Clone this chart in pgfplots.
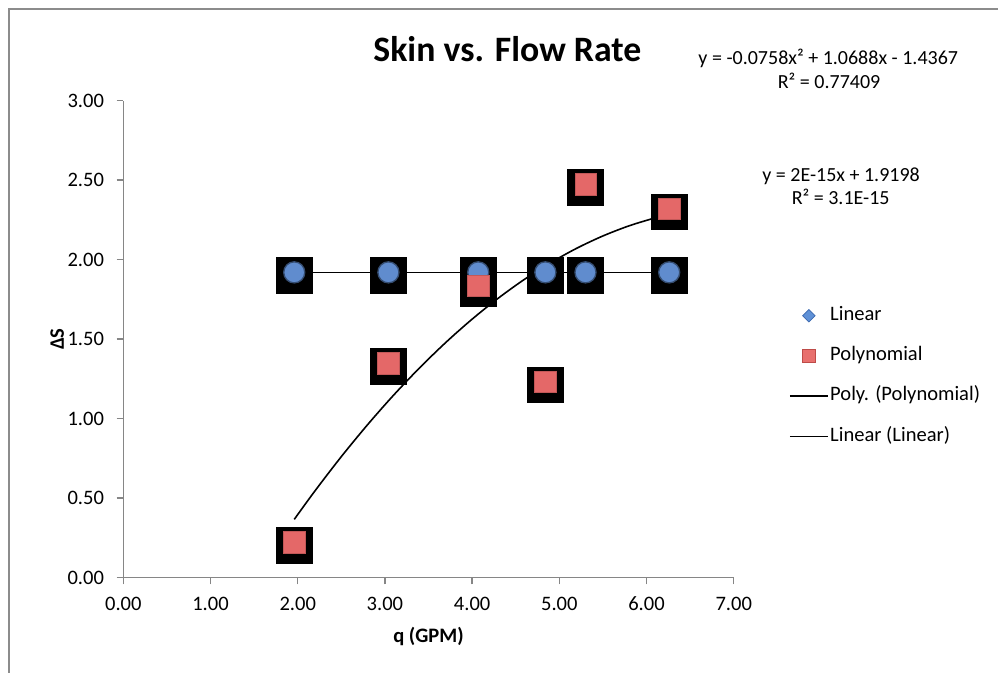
\documentclass[border=0pt]{standalone}
\usepackage{fontspec}
\setmainfont{Carlito}
\usepackage{pgfplots}
\pgfplotsset{compat=1.18}
\pgfplotsset{mylegimg/.style={legend image code/.code={\draw[mark repeat=2,mark phase=2,##1] plot coordinates {(0pt,0pt)(14.3pt,0pt)(28.7pt,0pt)};}}}
\definecolor{axgray}{RGB}{134,134,134}
\definecolor{framegray}{RGB}{140,140,140}
\definecolor{mblue}{RGB}{96,140,206}
\definecolor{mpink}{RGB}{228,104,104}
\definecolor{lblue}{RGB}{95,145,215}
\definecolor{lbluedk}{RGB}{60,105,175}
\definecolor{lpink}{RGB}{232,112,110}
\definecolor{lpinkdk}{RGB}{190,75,72}
\begin{document}
\begin{tikzpicture}
\useasboundingbox (0,0) rectangle (748.5pt,-504.75pt);
\draw[framegray, line width=1.3pt] (6.9pt,-520pt) -- (6.9pt,-6.9pt) -- (760pt,-6.9pt);
\node[font=\fontsize{26.8}{32}\selectfont\bfseries, anchor=base, inner sep=0pt] at (380.5pt,-46.3pt) {Skin vs. Flow Rate};
\node[font=\fontsize{15}{18}\selectfont, anchor=base, inner sep=0pt] at (621.2pt,-48.2pt) {y = -0.0758x² + 1.0688x - 1.4367};
\node[font=\fontsize{15}{18}\selectfont, anchor=base, inner sep=0pt] at (621.8pt,-66.2pt) {R² = 0.77409};
\node[font=\fontsize{15}{18}\selectfont, anchor=base, inner sep=0pt] at (630.8pt,-136.3pt) {y = 2E-15x + 1.9198};
\node[font=\fontsize{15}{18}\selectfont, anchor=base, inner sep=0pt] at (630.5pt,-153.75pt) {R² = 3.1E-15};
\begin{axis}[
  at={(92.5pt,-433.3pt)}, anchor=south west,
  scale only axis, width=457.8pt, height=357.9pt,
  xmin=0, xmax=7, ymin=0, ymax=3,
  axis lines*=left,
  axis line style={axgray, line width=1.1pt},
  tick style={axgray, line width=1.1pt},
  major tick length=5pt,
  tick align=outside,
  xtick={0,1,2,3,4,5,6,7},
  ytick={0,0.5,1,1.5,2,2.5,3},
  tick label style={font=\fontsize{15.4}{18}\selectfont, black},
  xticklabel style={yshift=-6pt, /pgf/number format/.cd, fixed, fixed zerofill, precision=2, assume math mode=true},
  yticklabel style={xshift=-6pt, /pgf/number format/.cd, fixed, fixed zerofill, precision=2, assume math mode=true},
  xlabel={q (GPM)}, ylabel={ΔS},
  label style={font=\fontsize{15.4}{18}\selectfont\bfseries},
  xlabel style={at={(axis description cs:0.5,-0.1229)}, anchor=center},
  ylabel style={at={(axis description cs:-0.1084,0.5)}, anchor=center, rotate=0},
  clip=false,
  mylegimg,
  legend style={at={(axis cs:7.631,1.72)}, anchor=north west, draw=none, fill=none,
    inner sep=0pt, row sep=13.2pt, column sep=0pt,
    font=\fontsize{15.4}{18}\selectfont,
    nodes={inner sep=1pt, text height=11pt, text depth=4pt}},
  legend cell align=left,
]
% shadows
\addplot[forget plot, only marks, mark=square*, mark size=13.3pt, black, mark options={yshift=-2.2pt}]
  coordinates {(1.96,1.9198)(3.04,1.9198)(4.07,1.9198)(4.84,1.9198)(5.30,1.9198)(6.26,1.9198)};
\addplot[forget plot, only marks, mark=square*, mark size=13.3pt, black, mark options={yshift=-2.2pt}]
  coordinates {(1.96,0.223)(3.04,1.349)(4.07,1.836)(4.84,1.233)(5.30,2.474)(6.26,2.319)};
% inner markers
\addplot[forget plot, only marks, mark=*, mark size=7.9pt, mark options={fill=mblue, draw=mblue!55!black, line width=1pt}]
  coordinates {(1.96,1.9198)(3.04,1.9198)(4.07,1.9198)(4.84,1.9198)(5.30,1.9198)(6.26,1.9198)};
\addplot[forget plot, only marks, mark=square*, mark size=8pt, mark options={fill=mpink, draw=mpink!85!black, line width=0.4pt}]
  coordinates {(1.96,0.223)(3.04,1.349)(4.07,1.836)(4.84,1.233)(5.30,2.474)(6.26,2.319)};
% trendlines
\addplot[forget plot, black, line width=1.2pt, smooth]
  coordinates {(1.96,0.3669)(2.2,0.5478)(2.5,0.7615)(2.8,0.9616)(3.1,1.1482)(3.4,1.3210)(3.7,1.4802)(4.0,1.6257)(4.3,1.7576)(4.6,1.8759)(4.9,1.9804)(5.2,2.0715)(5.5,2.1487)(5.8,2.2124)(6.1,2.2625)(6.26,2.2836)};
\addplot[forget plot, black, line width=1.2pt]
  coordinates {(1.96,1.9198)(6.26,1.9198)};
% legend
\addlegendimage{only marks, mark=square*, mark size=3.3pt, mark options={rotate=45, fill=lblue, draw=lbluedk, line width=0.5pt}, mylegimg}
\addlegendimage{only marks, mark=square*, mark size=4.8pt, mark options={fill=lpink, draw=lpinkdk, line width=0.5pt}, mylegimg}
\addlegendimage{no marks, black, line width=1.2pt, mylegimg}
\addlegendimage{no marks, black, line width=1.2pt, mylegimg}
\legend{Linear, Polynomial, Poly. (Polynomial), Linear (Linear)}
\end{axis}
\end{tikzpicture}
\end{document}
